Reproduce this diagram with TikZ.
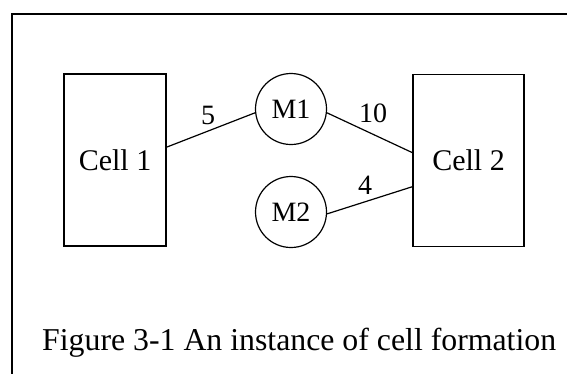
\documentclass[tikz,border=0pt]{standalone}
\usepackage{fontspec}
\setmainfont{Liberation Serif}
\tikzset{
  cellbox/.style={draw, line width=1.5pt, inner sep=0pt, minimum height=172pt, font=\fontsize{30}{36}\selectfont},
  machine/.style={draw, circle, line width=1.2pt, inner sep=0pt, minimum size=71pt, font=\fontsize{28}{34}\selectfont},
  link/.style={line width=1.2pt},
  weight/.style={inner sep=0pt, font=\fontsize{28}{34}\selectfont}
}
\begin{document}
\begin{tikzpicture}[x=1pt, y=-1pt]
		\useasboundingbox (0, 0) rectangle (567, 373);
		%%%%% frame %%%%%
		\draw[line width=1.7pt] (12, 380) -- (12, 14) -- (580, 14);
		
		\node[cellbox, minimum width=102pt] (cell1) at (115, 160) {Cell 1};
		\node[cellbox, minimum width=111pt] (cell2) at (468.5, 160.5) {Cell 2};
		
		\node[machine] (m1) at (291, 109) {M1};
		\node[machine] (m2) at (291, 212) {M2};
		
		\draw[link] (cell1.14) -- (m1.186);
		\draw[link] (m1.354) -- (cell2.172);
		\draw[link] (m2.357) -- (cell2.205);
		
		\node[weight] (w5) at (208, 115) {5};
		\node[weight] (w10) at (373, 113) {10};
		\node[weight] (w4) at (365, 185) {4};
		
		\node[anchor=base west, inner sep=0pt, font=\fontsize{31.8}{38}\selectfont] (caption) at (42, 350) {Figure 3-1 An instance of cell formation};
		%%%%% END %%%%%
	\end{tikzpicture}
\end{document}
